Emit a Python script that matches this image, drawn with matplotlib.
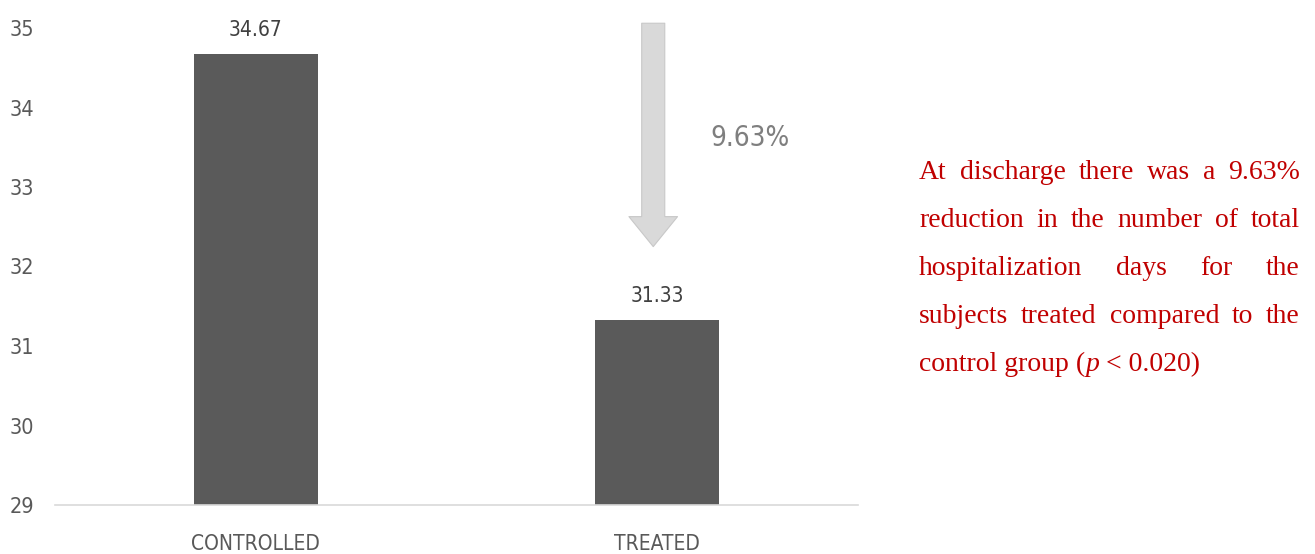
import matplotlib
matplotlib.use("Agg")
import matplotlib.pyplot as plt

categories = ["CONTROLLED", "TREATED"]
values = [34.67, 31.33]
value_labels = ["34.67", "31.33"]
yticks = [29, 30, 31, 32, 33, 34, 35]
reduction_label = "9.63%"

sans = "DejaVu Sans"
stretch = "condensed"
serif = "Liberation Serif"

W, H = 1315, 554
fig = plt.figure(figsize=(W / 100, H / 100), dpi=100)
ax = fig.add_axes([55 / W, 1 - 505 / H, (858 - 55) / W, (505 - 28) / H])

x = list(range(len(categories)))
ax.bar(x, values, width=0.31, color="#5a5a5a", bottom=0, zorder=2)
ax.set_ylim(29, 35)
ax.set_xlim(-0.5, 1.5)
ax.set_yticks(yticks)
ax.set_yticklabels([str(t) for t in yticks], fontsize=15.5, color="#595959",
                   family=sans, fontstretch=stretch)
ax.set_xticks(x)
ax.set_xticklabels(categories, fontsize=15, color="#595959", family=sans, fontstretch=stretch)
ax.tick_params(axis="both", length=0)
ax.tick_params(axis="y", pad=15)
ax.tick_params(axis="x", pad=21)
for s in ["top", "right", "left"]:
    ax.spines[s].set_visible(False)
ax.spines["bottom"].set_color("#d9d9d9")
ax.spines["bottom"].set_linewidth(1.2)

for xi, v, lab in zip(x, values, value_labels):
    ax.annotate(lab, (xi, v), xytext=(0, 10), textcoords="offset points",
                ha="center", va="bottom", fontsize=15, color="#404040",
                family=sans, fontstretch=stretch)

# reduction arrow
ax.annotate("", xy=(0.99, 32.25), xytext=(0.99, 35.06),
            arrowprops=dict(arrowstyle="simple,head_length=21.6,head_width=35,tail_width=16.6",
                            mutation_scale=1, fc="#d9d9d9", ec="#c8c8c8", lw=0.8,
                            shrinkA=0, shrinkB=0),
            annotation_clip=False)
ax.text(1.23, 33.62, reduction_label, ha="center", va="center", fontsize=20,
        color="#7f7f7f", family=sans, fontstretch=stretch)

# justified red paragraph
red = "#c00000"
fs = 20
left_px, right_px = 919, 1300
baselines = [179, 227, 275, 323, 371]
lines = [
    "At discharge there was a 9.63%",
    "reduction in the number of total",
    "hospitalization days for the",
    "subjects treated compared to the",
]
fig.canvas.draw()
r = fig.canvas.get_renderer()
for line, by in zip(lines, baselines):
    words = line.split()
    objs = [fig.text(0, 1 - by / H, w, fontsize=fs, color=red, family=serif,
                     va="baseline", ha="left") for w in words]
    widths = [o.get_window_extent(r).width for o in objs]
    gap = (right_px - left_px - sum(widths)) / (len(words) - 1)
    xp = left_px
    for o, w in zip(objs, widths):
        o.set_x(xp / W)
        xp += w + gap

segs = [("control group (", "normal"), ("p", "italic"), (" < 0.020)", "normal")]
xp = left_px
for s, st in segs:
    o = fig.text(xp / W, 1 - baselines[4] / H, s, fontsize=fs, color=red, family=serif,
                 style=st, va="baseline", ha="left")
    xp += o.get_window_extent(r).width

fig.savefig("out.png", dpi=100)
